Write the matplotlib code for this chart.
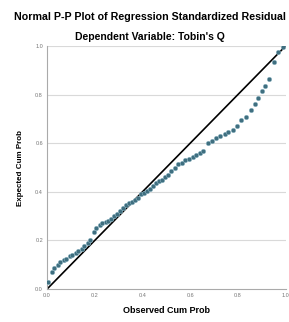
import matplotlib
matplotlib.use("Agg")
import matplotlib.pyplot as plt

# observed vs expected cumulative probabilities
observed = [0.005, 0.02, 0.03, 0.045, 0.055, 0.07, 0.08, 0.095, 0.105, 0.12,
            0.13, 0.145, 0.155, 0.17, 0.18, 0.195, 0.205, 0.22, 0.23, 0.245,
            0.255, 0.27, 0.28, 0.295, 0.305, 0.32, 0.33, 0.345, 0.355, 0.37,
            0.38, 0.395, 0.405, 0.42, 0.43, 0.445, 0.455, 0.47, 0.48, 0.495,
            0.505, 0.52, 0.535, 0.55, 0.565, 0.58, 0.595, 0.61, 0.625, 0.64,
            0.655, 0.675, 0.69, 0.71, 0.725, 0.745, 0.76, 0.78, 0.795, 0.815,
            0.835, 0.855, 0.87, 0.885, 0.90, 0.915, 0.93, 0.95, 0.97, 0.99]
expected = [0.03, 0.07, 0.085, 0.10, 0.11, 0.12, 0.125, 0.135, 0.14, 0.15,
            0.155, 0.165, 0.175, 0.19, 0.20, 0.235, 0.25, 0.265, 0.27, 0.275,
            0.28, 0.29, 0.30, 0.31, 0.32, 0.335, 0.345, 0.355, 0.36, 0.365,
            0.375, 0.39, 0.395, 0.405, 0.41, 0.425, 0.435, 0.445, 0.45, 0.46,
            0.47, 0.485, 0.50, 0.515, 0.52, 0.53, 0.535, 0.545, 0.55, 0.56,
            0.57, 0.60, 0.61, 0.62, 0.63, 0.64, 0.645, 0.655, 0.67, 0.695,
            0.71, 0.735, 0.76, 0.785, 0.815, 0.835, 0.865, 0.935, 0.975, 0.995]
ticks = [0.0, 0.2, 0.4, 0.6, 0.8, 1.0]
tick_labels = ["0.0", "0.2", "0.4", "0.6", "0.8", "1.0"]

plt.rcParams['font.family'] = ['Liberation Sans', 'DejaVu Sans']

fig = plt.figure(figsize=(2.89, 3.22), dpi=100)
ax = fig.add_axes([0.163, 0.1025, 0.825, 0.7545])

for t in ticks[1:]:
    ax.axhline(t, color='#d9d9d9', lw=0.8, zorder=0)

ax.plot([0, 1], [0, 1], color='black', lw=1.2, zorder=2)
ax.scatter(observed, expected, s=11, color='#3f6f80', edgecolors='#9fc3d0',
           linewidths=0.3, zorder=3)

ax.set_xlim(0, 1)
ax.set_ylim(0, 1)
ax.set_xticks(ticks)
ax.set_xticklabels(tick_labels)
ax.set_yticks(ticks)
ax.set_yticklabels(tick_labels)
ax.tick_params(labelsize=4, colors='#777777', length=0, pad=3)

for s in ['top', 'right']:
    ax.spines[s].set_visible(False)
for s in ['left', 'bottom']:
    ax.spines[s].set_color('#aaaaaa')
    ax.spines[s].set_linewidth(0.8)

ax.set_xlabel("Observed Cum Prob", fontsize=6.5, fontweight='bold', labelpad=6)
ax.set_ylabel("Expected Cum Prob", fontsize=5.8, fontweight='bold', labelpad=8)

fig.text(0.52, 0.947, "Normal P-P Plot of Regression Standardized Residual",
         ha='center', va='center', fontsize=7.7, fontweight='bold')
fig.text(0.52, 0.885, "Dependent Variable: Tobin's Q",
         ha='center', va='center', fontsize=7.5, fontweight='bold')

fig.savefig("out.png", dpi=100)
